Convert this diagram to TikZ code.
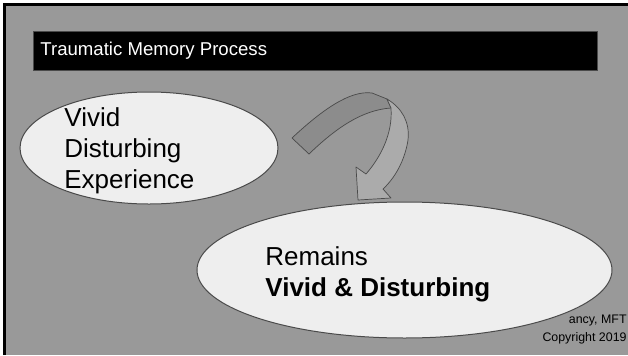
\documentclass[tikz,border=0pt]{standalone}
\usepackage{fontspec}
\setmainfont{Liberation Sans}
\usetikzlibrary{shapes.geometric}
\definecolor{slidegray}{HTML}{999999}
\definecolor{bubblefill}{HTML}{EEEEEE}
\definecolor{edgegray}{HTML}{4A4A4A}
\definecolor{arrowtop}{HTML}{8C8C8C}
\definecolor{arrowside}{HTML}{ABABAB}
\tikzset{%
  bubble/.style={ellipse, draw=edgegray, line width=0.5pt, fill=bubblefill,
                 inner sep=0pt},
  bubbletext/.style={anchor=base west, align=left, inner sep=0pt,
                     font=\fontsize{13pt}{15.5pt}\selectfont},
  face/.style={draw=edgegray, line width=0.35pt, line join=round},
}

\begin{document}
\begin{tikzpicture}[x=0.5pt, y=-0.5pt]

    % page and frame
    \useasboundingbox (0,0) rectangle (628,355);
    \fill[white] (0,0) rectangle (628,355);
    \fill[slidegray] (3,3) rectangle (628,355);
    \draw[line width=1.5pt] (4.5,355) -- (4.5,4.5) -- (628,4.5);

    % title bar
    \node[fill=black, draw=edgegray, line width=0.5pt, minimum width=282pt,
          minimum height=19.5pt, inner sep=0pt, anchor=north west]
          (title) at (33,31) {};
    \node[anchor=west, text=white, inner sep=0pt,
          font=\fontsize{9.3pt}{11pt}\selectfont]
          (titletext) at ([xshift=3.5pt]title.west) {Traumatic Memory Process};

    % copyright (partly behind the lower bubble), base = last line
    \node[anchor=base east, align=right, inner sep=0pt,
          font=\fontsize{6.2pt}{8.7pt}\selectfont]
          (copy) at (627,341) {ancy, MFT\\Copyright 2019};

    % the two bubbles
    \node[bubble, minimum width=129pt, minimum height=56pt] (exp) at (149,148) {};
    \node[bubble, minimum width=207.5pt, minimum height=68pt] (remain) at (404.5,270) {};

    % texts, anchored on the baseline of their last line
    \node[bubbletext] (exptext) at (64,188) {Vivid\\Disturbing\\Experience};
    \node[bubbletext] (remaintext) at (265,296) {Remains\\\textbf{Vivid \& Disturbing}};

    % curved arrow: top face
    \coordinate (tailup) at (292,138);
    \coordinate (taillow) at (309,154);
    \coordinate (foldout) at (387,99);
    \coordinate (foldin) at (391,108);
    \filldraw[face, fill=arrowtop] (tailup) .. controls (322,110) and (350,90) .. (372,93)
        -- (foldout) -- (foldin) .. controls (362,110) and (336,128) .. (taillow) -- cycle;

    % curved arrow: side face and head
    \coordinate (barbright) at (391,198);
    \coordinate (tip) at (358,200);
    \coordinate (barbleft) at (356,167);
    \filldraw[face, fill=arrowside] (foldout) .. controls (402,108) and (410,122) .. (408,140)
        .. controls (405,160) and (395,178) .. (383,189) -- (barbright) -- (tip)
        -- (barbleft) -- (366,174) .. controls (380,158) and (393,134) .. (foldin) -- cycle;

\end{tikzpicture}
\end{document}
